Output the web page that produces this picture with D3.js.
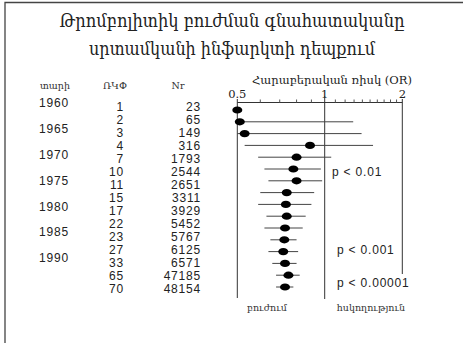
<!DOCTYPE html>
<html>
<head>
<meta charset="utf-8">
<script src="https://cdn.jsdelivr.net/npm/d3@7"></script>
<style>
  body { margin: 0; background: #fff; }
  svg { display: block; }
</style>
</head>
<body>
<div id="chart"></div>
<script>
// table columns
var years = [1960, 1965, 1970, 1975, 1980, 1985, 1990];
var trials = [1, 2, 3, 4, 7, 10, 11, 15, 17, 22, 23, 27, 33, 65, 70];
var patients = [23, 65, 149, 316, 1793, 2544, 2651, 3311, 3929, 5452, 5767, 6125, 6571, 47185, 48154];

// cumulative odds ratios, null = no interval drawn
var orEst   = [0.50, 0.51, 0.53, 0.89, 0.80, 0.78, 0.80, 0.74, 0.735, 0.74, 0.73, 0.726, 0.72, 0.73, 0.75, 0.73];
var orLower = [null, 0.50, 0.50, 0.53, 0.59, 0.62, 0.64, 0.60, 0.59, 0.63, 0.62, 0.65, 0.64, 0.66, 0.68, 0.68];
var orUpper = [null, 1.29, 1.39, 1.54, 1.06, 0.97, 0.98, 0.92, 0.90, 0.86, 0.84, 0.80, 0.81, 0.80, 0.82, 0.78];

var majorTicks = [0.5, 1, 2];
var minorTicks = [0.6, 0.7, 0.8, 0.9, 1.1, 1.2, 1.3, 1.4, 1.5, 1.6, 1.7, 1.8, 1.9];
var pLabels = ["p < 0.01", "p < 0.001", "p < 0.00001"];
var pRows = [5.2, 11.8, 14.6];

var W = 463, H = 343;
var serif = "'DejaVu Serif', 'Liberation Serif', serif";
var sans = "'Liberation Sans', Arial, sans-serif";

var svg = d3.select("#chart").append("svg")
    .attr("width", W)
    .attr("height", H);

svg.append("rect").attr("width", W).attr("height", H).attr("fill", "#fff");

// frame
svg.append("path")
    .attr("d", "M5,343 L5,2.5 L463,2.5")
    .attr("fill", "none")
    .attr("stroke", "#444")
    .attr("stroke-width", 1.3);

// title
var title = ["Թրոմբոլիտիկ բուժման գնահատականը", "սրտամկանի ինֆարկտի դեպքում"];
var titleLen = [345, 286];
title.forEach(function(t, i) {
    svg.append("text")
        .attr("x", 232)
        .attr("y", 27 + i * 28)
        .attr("text-anchor", "middle")
        .attr("textLength", titleLen[i])
        .attr("lengthAdjust", "spacingAndGlyphs")
        .style("font-family", serif)
        .style("font-size", "19px")
        .attr("fill", "#222")
        .text(t);
});

// scales
var x = d3.scaleLog().domain([0.5, 1, 2]).range([237.3, 324.7, 402.3]).clamp(true);
var yRow = d3.scaleLinear().domain([0, trials.length - 1]).range([107, 289]);
var yDot = d3.scaleLinear().domain([0, orEst.length - 1]).range([110, 287]);
var yYear = d3.scaleLinear().domain([1960, 1990]).range([103, 258]);

function numText(sel) {
    sel.attr("dy", "0.36em")
        .style("font-family", sans)
        .style("font-size", "12px")
        .style("letter-spacing", "0.8px")
        .attr("fill", "#222");
}

// column headers
var heads = [{t: "տարի", x: 55}, {t: "ՌԿՓ", x: 115}, {t: "Nr", x: 178}];
svg.selectAll(".head").data(heads).enter().append("text")
    .attr("x", function(d) { return d.x; })
    .attr("y", 89)
    .attr("text-anchor", "middle")
    .style("font-family", serif)
    .style("font-size", "9.5px")
    .attr("fill", "#333")
    .text(function(d) { return d.t; });

svg.selectAll(".year").data(years).enter().append("text")
    .attr("x", 39)
    .attr("y", function(d) { return yYear(d); })
    .call(numText)
    .text(function(d) { return d; });

svg.selectAll(".trial").data(trials).enter().append("text")
    .attr("x", 124)
    .attr("y", function(d, i) { return yRow(i); })
    .attr("text-anchor", "end")
    .call(numText)
    .text(function(d) { return d; });

svg.selectAll(".pat").data(patients).enter().append("text")
    .attr("x", 201)
    .attr("y", function(d, i) { return yRow(i); })
    .attr("text-anchor", "end")
    .call(numText)
    .text(function(d) { return d; });

// axis
var axisY = 102.5;
svg.append("text")
    .attr("x", 332)
    .attr("y", 84)
    .attr("text-anchor", "middle")
    .attr("textLength", 160)
    .attr("lengthAdjust", "spacingAndGlyphs")
    .style("font-family", serif)
    .style("font-size", "11px")
    .attr("fill", "#222")
    .text("Հարաբերական ռիսկ (OR)");

svg.append("line")
    .attr("x1", x(0.5)).attr("x2", x(2))
    .attr("y1", axisY).attr("y2", axisY)
    .attr("stroke", "#333");

svg.selectAll(".minor").data(minorTicks).enter().append("line")
    .attr("x1", function(d) { return x(d); })
    .attr("x2", function(d) { return x(d); })
    .attr("y1", axisY).attr("y2", axisY - 3)
    .attr("stroke", "#555");

svg.selectAll(".tlab").data(majorTicks).enter().append("text")
    .attr("x", function(d) { return x(d); })
    .attr("y", 98)
    .attr("text-anchor", "middle")
    .style("font-family", serif)
    .style("font-size", "11.5px")
    .attr("fill", "#222")
    .text(function(d) { return d; });

// reference verticals
var vEnd = [298, 299, 274];
svg.selectAll(".vline").data(majorTicks).enter().append("line")
    .attr("x1", function(d) { return x(d); })
    .attr("x2", function(d) { return x(d); })
    .attr("y1", function(d) { return d === 1 ? 96 : 99; })
    .attr("y2", function(d, i) { return vEnd[i]; })
    .attr("stroke", "#333");

// confidence intervals
var rows = orEst.map(function(d, i) { return {i: i, est: d, lo: orLower[i], hi: orUpper[i]}; });
svg.selectAll(".ci").data(rows.filter(function(r) { return r.lo !== null; })).enter().append("line")
    .attr("x1", function(r) { return x(r.lo); })
    .attr("x2", function(r) { return x(r.hi); })
    .attr("y1", function(r) { return yDot(r.i); })
    .attr("y2", function(r) { return yDot(r.i); })
    .attr("stroke", "#444");

// point estimates
svg.selectAll(".dot").data(rows).enter().append("ellipse")
    .attr("cx", function(r) { return x(r.est); })
    .attr("cy", function(r) { return yDot(r.i); })
    .attr("rx", 5)
    .attr("ry", 3.6)
    .attr("fill", "#000");

// p values
svg.selectAll(".pval").data(pLabels).enter().append("text")
    .attr("x", function(d, i) { return i === 0 ? 332 : 337; })
    .attr("y", function(d, i) { return yDot(pRows[i]); })
    .call(numText)
    .text(function(d) { return d; });

// bottom labels
var bottom = [{t: "բուժում", x: 267}, {t: "հսկողություն", x: 371}];
svg.selectAll(".bot").data(bottom).enter().append("text")
    .attr("x", function(d) { return d.x; })
    .attr("y", 311)
    .attr("text-anchor", "middle")
    .style("font-family", serif)
    .style("font-size", "9.5px")
    .attr("fill", "#333")
    .text(function(d) { return d.t; });
</script>
</body>
</html>
